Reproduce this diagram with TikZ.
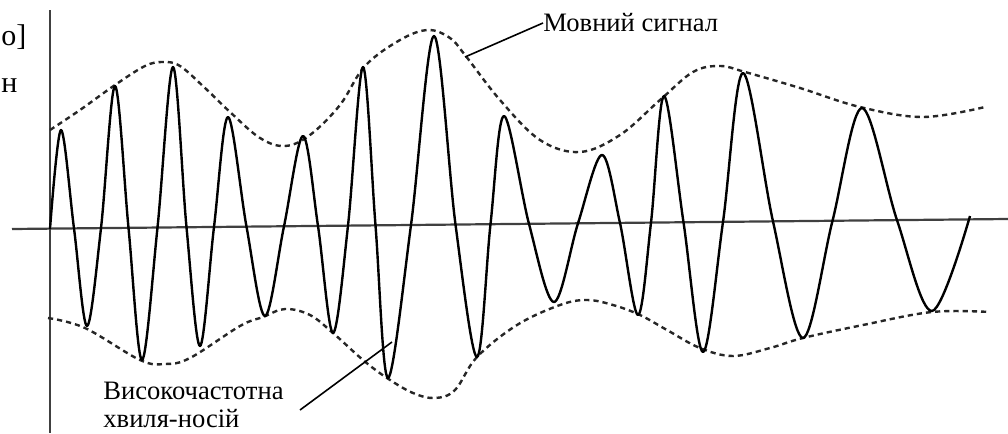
\documentclass[tikz,border=0pt]{standalone}
\usepackage{fontspec}
\setmainfont{Liberation Serif}
\usetikzlibrary{positioning}
\tikzset{
AxisStyle/.style  ={line width=1.1pt, black!75},
EnvStyle/.style   ={line width=1.2pt, black!85, dash pattern=on 2.6pt off 2pt,
                    smooth, tension=0.6},
WaveStyle/.style  ={line width=1.2pt, line join=round, smooth, tension=0.55},
PointerStyle/.style ={line width=0.8pt},
LabelStyle/.style ={inner sep=0pt, font=\fontsize{13.3}{14}\selectfont},
CutStyle/.style   ={inner sep=0pt, font=\fontsize{15}{18}\selectfont},
}

\begin{document}
\begin{tikzpicture}[x=0.5pt, y=-0.5pt]
\useasboundingbox (0,0) rectangle (1008,434);

\begin{scope}[AxisStyle]  % осі
\coordinate (yTop) at (50,10);  \coordinate (yBot) at (50,433);
\coordinate (xLeft) at (12,229); \coordinate (xRight) at (1008,219);
\draw (yTop) -- (yBot);
\draw (xLeft) -- (xRight);
\end{scope}

% обвідні (мовний сигнал)
\draw [EnvStyle] plot coordinates {(50,130) (80,110) (115,85) (145,66) (163,62)
  (180,66) (205,88) (230,112) (260,138) (285,146) (310,135) (340,105) (365,66)
  (400,40) (428,30) (450,38) (465,55) (500,100) (540,140) (580,152) (620,135)
  (660,100) (693,72) (720,66) (745,72) (800,88) (860,107) (923,117) (985,107)};
\draw [EnvStyle] plot coordinates {(48,318) (85,328) (140,360) (165,364) (190,358)
  (240,326) (263,317) (285,309) (310,315) (333,333) (363,360) (387,378) (413,393)
  (435,398) (455,390) (477,357) (517,325) (560,305) (587,300) (613,305) (640,315)
  (667,330) (700,348) (733,356) (770,348) (803,338) (863,325) (932,312) (990,312)};

% несуча хвиля
\draw [WaveStyle] plot coordinates {(50,229) (61,130) (74,228.4) (87,326)
  (101,228.1) (115,86) (128.5,227.8) (142,360) (157.5,227.5) (173,67)
  (186.5,227.2) (200,346) (214,227) (228,117) (246.5,226.6) (265,316)
  (284,226.3) (303,136) (318,226) (333,333) (348,225.6) (363,67)
  (375.5,225.4) (388,378) (411,225) (434,36) (455.5,224.5) (477,357)
  (490.5,224.2) (504,116) (529,223.9) (554,302) (578,223.3) (602,155)
  (620,223) (638,315) (651,222.6) (664,96) (683.5,222.3) (703,352)
  (723,221.9) (743,73) (773,221.4) (803,338) (832.5,220.8) (862,108)
  (897,220.1) (932,311) (970,216)};

% підписи
\node [LabelStyle, anchor=west] (sigLabel) at (543,23) {Мовний сигнал};
\coordinate (sigTip) at (465,57);
\draw [PointerStyle] (sigTip) -- (sigLabel.west);

\node [LabelStyle, anchor=north west, align=left] (carLabel) at (103,382)
  {Високочастотна\\хвиля-носій};
\coordinate (carFoot) at (300,410); \coordinate (carTip) at (392,342);
\draw [PointerStyle] (carFoot) -- (carTip);

\node [CutStyle, anchor=west] (cutA) at (1,37) {о]};
\node [CutStyle, anchor=west] (cutB) at (1,86) {н};
\end{tikzpicture}
\end{document}
